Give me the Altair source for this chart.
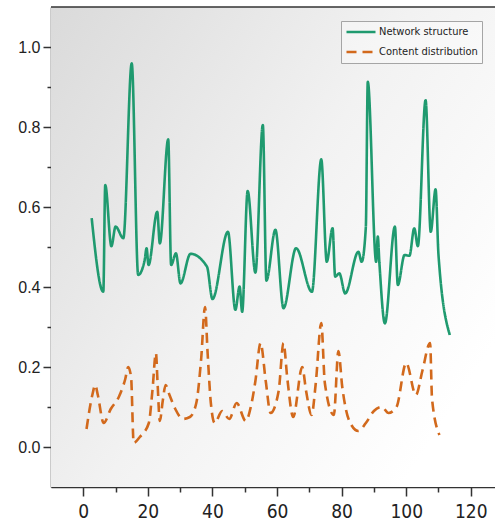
import altair as alt
import pandas as pd

# ---- data ----
series_names = ["Network structure", "Content distribution"]

net_x = [2.6, 6.2, 6.8, 8.7, 10.0, 12.4, 15.0, 17.0, 19.0, 19.6, 20.2, 22.9, 23.7,
         26.3, 27.2, 28.7, 30.1, 33.2, 38.3, 40.0, 44.8, 47.1, 48.4, 49.2, 50.9,
         53.3, 55.6, 56.7, 59.5, 62.0, 65.9, 70.8, 73.7, 75.4, 77.2, 78.0, 79.3,
         81.1, 85.2, 86.2, 87.5, 88.1, 90.7, 91.2, 91.7, 93.4, 96.5, 97.4, 99.5,
         101.0, 102.5, 103.6, 106.0, 107.6, 109.1, 110.0, 113.5]
net_y = [0.572, 0.388, 0.655, 0.502, 0.551, 0.522, 0.959, 0.430, 0.467, 0.497,
         0.455, 0.588, 0.509, 0.769, 0.455, 0.484, 0.409, 0.483, 0.451, 0.370,
         0.538, 0.343, 0.401, 0.338, 0.640, 0.436, 0.805, 0.416, 0.543, 0.347,
         0.497, 0.388, 0.719, 0.463, 0.547, 0.426, 0.434, 0.384, 0.488, 0.463,
         0.550, 0.913, 0.463, 0.526, 0.460, 0.309, 0.551, 0.405, 0.480, 0.478,
         0.547, 0.502, 0.867, 0.538, 0.644, 0.480, 0.280]

cont_x = [1.0, 2.8, 3.7, 4.5, 6.3, 8.5, 11.0, 13.0, 13.9, 14.8, 15.6, 17.5, 20.3,
          21.4, 22.5, 23.0, 23.7, 24.6, 25.5, 26.7, 28.5, 30.8, 33.0, 35.0, 36.5,
          37.7, 38.5, 39.5, 40.7, 43.0, 45.2, 47.5, 50.3, 52.0, 53.3, 54.9, 56.5,
          58.0, 60.5, 62.0, 63.2, 65.0, 67.8, 69.0, 70.7, 72.0, 73.7, 74.8, 77.6,
          79.0, 80.2, 82.5, 85.2, 87.5, 90.0, 92.5, 94.5, 97.0, 100.0, 103.0,
          105.0, 107.4, 108.0, 110.3]
cont_y = [0.045, 0.130, 0.155, 0.130, 0.060, 0.095, 0.125, 0.170, 0.200, 0.175,
          0.010, 0.025, 0.060, 0.140, 0.235, 0.160, 0.065, 0.115, 0.155, 0.130,
          0.095, 0.070, 0.075, 0.110, 0.220, 0.350, 0.235, 0.110, 0.060, 0.090,
          0.070, 0.110, 0.065, 0.105, 0.165, 0.260, 0.165, 0.085, 0.140, 0.260,
          0.170, 0.075, 0.200, 0.140, 0.080, 0.160, 0.310, 0.160, 0.080, 0.240,
          0.150, 0.063, 0.040, 0.060, 0.090, 0.100, 0.085, 0.100, 0.210, 0.130,
          0.190, 0.260, 0.120, 0.030]

x_tick_values = list(range(0, 130, 10))
y_tick_values = [round(i * 0.1, 1) for i in range(0, 11)]

df = pd.concat([
    pd.DataFrame({"x": net_x, "y": net_y, "series": series_names[0]}),
    pd.DataFrame({"x": cont_x, "y": cont_y, "series": series_names[1]}),
], ignore_index=True)

W, H = 444, 480
SANS = "Arial, 'Liberation Sans', 'DejaVu Sans', sans-serif"
NARROW = "'Liberation Sans Narrow', 'Arial Narrow', 'DejaVu Sans Condensed', Arial, 'Liberation Sans', sans-serif"

x_axis = alt.Axis(
    values=x_tick_values, title=None, grid=False,
    tickSize=9, tickWidth=1.5, tickColor="#333",
    tickDash={"condition": {"test": "round(datum.value) % 20 != 0", "value": [5, 20]},
              "value": [1, 0]},
    labelExpr="round(datum.value) % 20 == 0 ? datum.label : ''",
    labelFont=NARROW, labelFontSize=19, labelColor="#222",
    labelPadding=6, labelOverlap=False, labelFlush=False,
    domainColor="#333", domainWidth=1.5,
)
y_axis = alt.Axis(
    values=y_tick_values, title=None, grid=False,
    tickSize=8, tickWidth=1.5, tickColor="#333",
    tickDash={"condition": {"test": "round(datum.value * 10) % 2 != 0", "value": [4, 20]},
              "value": [1, 0]},
    labelExpr="round(datum.value * 10) % 2 == 0 ? format(datum.value, '.1f') : ''",
    labelFont=SANS, labelFontSize=16, labelColor="#222",
    labelPadding=3, labelOverlap=False, labelFlush=False,
    domainColor="#333", domainWidth=1.5,
)

legend = alt.Legend(
    title=None, orient="none", legendX=290, legendY=14,
    fillColor="rgba(255,255,255,0.35)", strokeColor="#a5a5a5",
    padding=4, symbolType="stroke", symbolSize=841, symbolStrokeWidth=2.5,
    clipHeight=14, rowPadding=6, labelOffset=2,
    labelFont=NARROW, labelFontSize=11, labelColor="#222",
)

bg = alt.Chart(pd.DataFrame({"k": [0]})).mark_rect(
    fill=alt.LinearGradient(
        gradient="linear",
        stops=[alt.GradientStop(color="#dadada", offset=0),
               alt.GradientStop(color="#f2f2f2", offset=0.55),
               alt.GradientStop(color="#ffffff", offset=1)],
        x1=0, y1=0, x2=1, y2=0.7,
    )
).encode(x=alt.value(0), x2=alt.value(W), y=alt.value(0), y2=alt.value(H))

lines = alt.Chart(df).mark_line(interpolate="monotone", strokeWidth=2.6).encode(
    x=alt.X("x:Q", scale=alt.Scale(domain=[-10, 127.5], nice=False, zero=False), axis=x_axis),
    y=alt.Y("y:Q", scale=alt.Scale(domain=[-0.1, 1.1], nice=False, zero=False), axis=y_axis),
    color=alt.Color("series:N", sort=series_names,
                    scale=alt.Scale(domain=series_names, range=["#1f9a6f", "#d2691c"]),
                    legend=legend),
    strokeDash=alt.StrokeDash("series:N", sort=series_names,
                              scale=alt.Scale(domain=series_names, range=[[1, 0], [10, 6]]),
                              legend=legend),
)

top = alt.Chart(pd.DataFrame({"k": [0]})).mark_rule(color="#333", strokeWidth=1.5).encode(
    x=alt.value(0), x2=alt.value(W), y=alt.value(0)
)

chart = alt.layer(bg, lines, top).properties(
    width=W, height=H,
    padding={"left": 51, "top": 7, "right": 0, "bottom": 42},
    autosize=alt.AutoSizeParams(type="none"),
).configure_view(stroke=None).configure(background="white")

chart.save("out.html", embed_options={"renderer": "svg", "actions": False})
